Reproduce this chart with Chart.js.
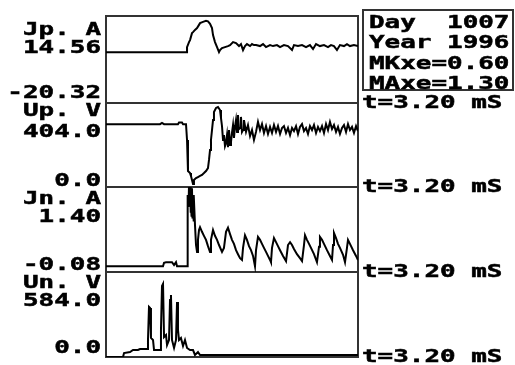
<!DOCTYPE html>
<html>
<head>
<meta charset="utf-8">
<script src="https://cdn.jsdelivr.net/npm/chart.js@4.4.0/dist/chart.umd.min.js"></script>
<style>
  html, body { margin: 0; padding: 0; background: #fff; }
  #wrap { width: 515px; height: 365px; }
</style>
</head>
<body>
<div id="wrap"><canvas id="scope"></canvas></div>
<script>
// one record is 3.20 ms long, times below are in ms
const recordMs = 3.2;

// Jp, A
const jpTime = [0, 1.029, 1.029, 1.054, 1.067, 1.092, 1.105, 1.130, 1.156, 1.181, 1.194, 1.232, 1.270, 1.295, 1.321, 1.346, 1.359, 1.384, 1.410, 1.435, 1.448, 1.473, 1.511, 1.549, 1.575, 1.613, 1.651, 1.689, 1.714, 1.740, 1.765, 1.790, 1.829, 1.854, 1.879, 1.905, 1.956, 1.994, 2.032, 2.083, 2.121, 2.171, 2.210, 2.260, 2.311, 2.362, 2.387, 2.438, 2.489, 2.540, 2.590, 2.629, 2.667, 2.717, 2.768, 2.819, 2.857, 2.895, 2.933, 2.971, 3.022, 3.060, 3.098, 3.149, 3.2];
const jpAmp = [0, 0, 2.1, 4.1, 4.9, 7.7, 8.1, 9.0, 9.7, 11.0, 11.7, 12.2, 12.6, 12.4, 11.4, 9.7, 6.9, 4.1, 2.1, 0.1, 0.9, 1.7, 2.1, 2.5, 2.9, 4.1, 3.7, 2.5, 3.3, 0.9, 2.5, 3.3, 2.5, 3.3, 2.9, 2.9, 2.5, 3.3, 2.1, 2.9, 2.5, 2.9, 2.1, 2.9, 2.5, 0.9, 2.9, 2.5, 2.9, 2.1, 2.9, 1.3, 3.3, 2.5, 2.9, 2.1, 2.9, 2.5, 0.9, 2.9, 2.5, 3.3, 2.5, 2.9, 2.5];

// Up, V
const upTime = [0, 0.686, 0.711, 0.737, 0.914, 0.927, 0.965, 0.978, 1.016, 1.029, 1.041, 1.067, 1.079, 1.092, 1.105, 1.117, 1.143, 1.168, 1.194, 1.219, 1.244, 1.270, 1.295, 1.308, 1.321, 1.333, 1.346, 1.359, 1.371, 1.397, 1.422, 1.448, 1.460, 1.473, 1.486, 1.498, 1.511, 1.524, 1.537, 1.549, 1.562, 1.575, 1.587, 1.600, 1.613, 1.625, 1.638, 1.651, 1.664, 1.676, 1.689, 1.702, 1.714, 1.727, 1.740, 1.752, 1.778, 1.803, 1.829, 1.854, 1.879, 1.905, 1.930, 1.956, 1.981, 2.006, 2.032, 2.057, 2.083, 2.108, 2.133, 2.159, 2.184, 2.210, 2.235, 2.260, 2.286, 2.311, 2.337, 2.362, 2.387, 2.413, 2.438, 2.463, 2.489, 2.514, 2.540, 2.565, 2.590, 2.616, 2.641, 2.667, 2.692, 2.717, 2.743, 2.768, 2.794, 2.819, 2.844, 2.870, 2.895, 2.921, 2.946, 2.971, 2.997, 3.022, 3.048, 3.073, 3.098, 3.124, 3.149, 3.175, 3.2];
const upVolt = [302, 302, 308, 302, 302, 310, 310, 302, 302, 226, 77, 67, 53, 34, 14, 34, 43, 48, 53, 58, 67, 77, 91, 130, 178, 226, 274, 322, 361, 380, 385, 370, 332, 293, 226, 250, 197, 212, 250, 192, 274, 202, 216, 262, 298, 236, 289, 322, 265, 346, 279, 284, 337, 265, 274, 322, 265, 298, 245, 274, 226, 265, 313, 274, 303, 260, 293, 255, 289, 260, 298, 265, 293, 255, 284, 293, 260, 284, 250, 284, 269, 293, 255, 289, 303, 269, 284, 255, 293, 274, 298, 260, 289, 269, 293, 260, 303, 274, 313, 279, 298, 265, 289, 255, 284, 298, 265, 303, 274, 289, 260, 293, 269];

// Jn, A
const jnTime = [0, 0.724, 0.737, 0.762, 0.838, 0.864, 0.889, 0.902, 1.029, 1.029, 1.041, 1.041, 1.048, 1.054, 1.060, 1.067, 1.073, 1.079, 1.086, 1.092, 1.098, 1.105, 1.111, 1.117, 1.130, 1.143, 1.156, 1.168, 1.181, 1.194, 1.219, 1.244, 1.270, 1.295, 1.321, 1.333, 1.359, 1.384, 1.410, 1.435, 1.473, 1.498, 1.524, 1.549, 1.575, 1.600, 1.625, 1.651, 1.676, 1.702, 1.727, 1.740, 1.765, 1.790, 1.816, 1.841, 1.867, 1.892, 1.905, 1.930, 1.956, 1.981, 2.006, 2.032, 2.057, 2.083, 2.095, 2.108, 2.133, 2.159, 2.184, 2.210, 2.248, 2.286, 2.311, 2.337, 2.362, 2.387, 2.425, 2.463, 2.489, 2.514, 2.527, 2.552, 2.578, 2.603, 2.641, 2.679, 2.705, 2.717, 2.743, 2.768, 2.806, 2.844, 2.870, 2.883, 2.895, 2.921, 2.946, 2.971, 3.010, 3.035, 3.060, 3.073, 3.098, 3.137, 3.175, 3.2];
const jnAmp = [0.02, 0.02, 0.08, 0.09, 0.09, 0.04, 0.09, 0.02, 0.02, 0.48, 0.65, 1.26, 1.05, 1.43, 1.10, 1.52, 0.95, 1.17, 0.90, 1.38, 0.85, 1.00, 0.80, 1.26, 0.74, 0.39, 0.27, 0.48, 0.65, 0.70, 0.62, 0.55, 0.48, 0.37, 0.27, 0.48, 0.65, 0.55, 0.48, 0.39, 0.27, 0.34, 0.62, 0.69, 0.58, 0.48, 0.41, 0.30, 0.23, 0.16, 0.13, 0.34, 0.56, 0.48, 0.37, 0.30, 0.20, 0.02, 0.30, 0.53, 0.48, 0.41, 0.34, 0.27, 0.20, 0.13, 0.09, 0.34, 0.51, 0.44, 0.37, 0.30, 0.20, 0.11, 0.39, 0.44, 0.39, 0.32, 0.23, 0.16, 0.11, 0.39, 0.56, 0.48, 0.41, 0.34, 0.23, 0.09, 0.36, 0.53, 0.48, 0.41, 0.30, 0.20, 0.13, 0.39, 0.60, 0.51, 0.41, 0.34, 0.22, 0.09, 0.34, 0.48, 0.41, 0.30, 0.20, 0.13];

// Un, V
const unTime = [0, 0.216, 0.229, 0.305, 0.343, 0.406, 0.432, 0.521, 0.533, 0.546, 0.559, 0.571, 0.597, 0.610, 0.686, 0.698, 0.711, 0.724, 0.737, 0.762, 0.775, 0.800, 0.813, 0.825, 0.838, 0.864, 0.889, 0.902, 0.914, 0.927, 0.952, 0.978, 1.003, 1.029, 1.067, 1.105, 1.130, 1.168, 1.194, 3.2];
const unVolt = [0, 0, 27, 34, 48, 48, 55, 55, 117, 344, 337, 131, 117, 48, 48, 186, 488, 502, 137, 151, 82, 117, 392, 426, 117, 62, 117, 378, 186, 117, 131, 76, 117, 62, 48, 48, 14, 34, 14, 14];

const channelNames = ["Jp. A", "Up. V", "Jn. A", "Un. V"];
const channelMax = [14.56, 404.0, 1.40, 584.0];
const channelMin = [-20.32, 0.0, -0.08, 0.0];
const maxLabels = ["14.56", "404.0", "1.40", "584.0"];
const minLabels = ["-20.32", "0.0", "-0.08", "0.0"];
const infoLines = ["Day  1007", "Year 1996", "MKxe=0.60", "MAxe=1.30"];
const timeLabel = "t=3.20 mS";

const axisIds = ["yJp", "yUp", "yJn", "yUn"];
const series = [[jpTime, jpAmp], [upTime, upVolt], [jnTime, jnAmp], [unTime, unVolt]];

function toPoints(t, v) {
  return t.map((x, i) => ({ x: x, y: v[i] }));
}

const FONT = 'bold 18px "DejaVu Sans Mono"';
const STRETCH = 1.44;
const INK = "#000";
const FRAME = "#333";

// old scope screens use a wide, heavy bitmap font: stretch and thicken
function drawText(ctx, str, x, y, align) {
  ctx.save();
  ctx.translate(x, y);
  ctx.scale(STRETCH, 1);
  ctx.font = FONT;
  ctx.fillStyle = INK;
  ctx.strokeStyle = INK;
  ctx.lineWidth = 0.5;
  ctx.textAlign = align;
  ctx.textBaseline = "alphabetic";
  ctx.fillText(str, 0, 0);
  ctx.strokeText(str, 0, 0);
  ctx.restore();
}

// text baselines, relative to each panel's top / bottom edge
const unitOffset = [19, 13, 17, 16];
const maxOffset = [37, 34, 35, 34];
const minOffset = [-5, -1, -2, -4];

const scopeDecor = {
  id: "scopeDecor",
  beforeDatasetsDraw(chart) {
    const { ctx, chartArea: a } = chart;
    ctx.save();
    ctx.strokeStyle = FRAME;
    ctx.lineWidth = 2;
    axisIds.forEach((id) => {
      const s = chart.scales[id];
      ctx.strokeRect(a.left, s.top, a.right - a.left, s.bottom - s.top);
    });
    // info box
    ctx.strokeRect(363, 10, 150, 80);
    ctx.restore();
  },
  afterDraw(chart) {
    const { ctx, chartArea: a } = chart;
    axisIds.forEach((id, i) => {
      const s = chart.scales[id];
      drawText(ctx, channelNames[i], a.left - 5, s.top + unitOffset[i], "right");
      drawText(ctx, maxLabels[i], a.left - 5, s.top + maxOffset[i], "right");
      drawText(ctx, minLabels[i], a.left - 5, s.bottom + minOffset[i], "right");
      drawText(ctx, timeLabel, a.right + 4, s.bottom + 5, "left");
    });
    infoLines.forEach((line, i) => {
      drawText(ctx, line, 369, 28 + i * 20.3, "left");
    });
  }
};

const panelWeights = [87, 84, 85, 85];

const yScales = {};
axisIds.forEach((id, i) => {
  yScales[id] = {
    type: "linear",
    position: "left",
    stack: "scope",
    stackWeight: panelWeights[i],
    weight: 4 - i,
    min: channelMin[i],
    max: channelMax[i],
    grid: { display: false },
    border: { display: false },
    ticks: { display: false },
    afterFit(scale) { scale.width = 0; }
  };
});

new Chart(document.getElementById("scope"), {
  type: "line",
  data: {
    datasets: series.map((s, i) => ({
      label: channelNames[i],
      data: toPoints(s[0], s[1]),
      yAxisID: axisIds[i],
      borderColor: INK,
      borderWidth: 2,
      pointRadius: 0,
      tension: 0,
      fill: false
    }))
  },
  options: {
    responsive: true,
    maintainAspectRatio: false,
    animation: false,
    layout: { padding: { left: 106, right: 157, top: 16, bottom: 8 } },
    plugins: {
      legend: { display: false },
      tooltip: { enabled: false }
    },
    scales: {
      x: {
        type: "linear",
        min: 0,
        max: recordMs,
        display: false
      },
      ...yScales
    }
  },
  plugins: [scopeDecor]
});
</script>
</body>
</html>
